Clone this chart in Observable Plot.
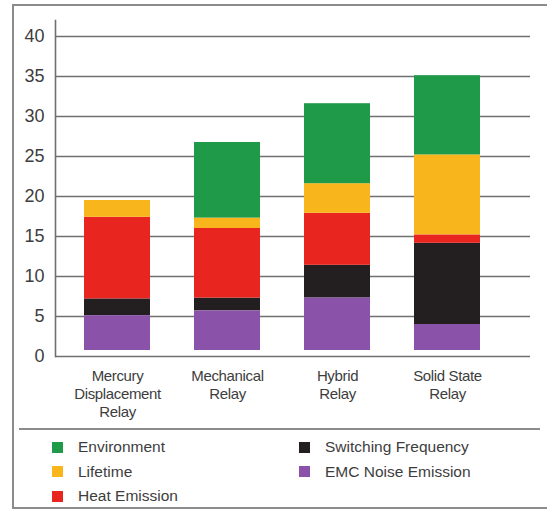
<!DOCTYPE html>
<html><head><meta charset="utf-8">
<script src="https://cdn.jsdelivr.net/npm/d3@7"></script>
<script src="https://cdn.jsdelivr.net/npm/@observablehq/plot@0.6"></script>
<style>
html,body{margin:0;padding:0;background:#fff;}
body{width:547px;height:510px;position:relative;overflow:hidden;font-family:"Liberation Sans",Arial,sans-serif;color:#3d3d3d;}
#border{position:absolute;left:12px;top:4px;width:620px;height:505px;border:2px solid #8c8c8c;border-right:none;box-sizing:border-box;}
#chart{position:absolute;left:0;top:0;}
#chart svg{display:block;background:transparent;}
#chart g[aria-label="x-axis tick label"] text{letter-spacing:-0.35px;}
#legend{position:absolute;left:19px;top:428px;width:521px;border-top:2px solid #8c8c8c;padding:5px 0 0 33px;box-sizing:border-box;
  display:grid;grid-template-columns:247px auto;grid-template-rows:24.5px 24.5px 24.5px;grid-auto-flow:column;}
.item{display:flex;align-items:center;font-size:15.5px;color:#3d3d3d;}
.sw{width:11px;height:11px;margin-right:15px;flex:none;}
</style>
</head><body>
<div id="border"></div>
<div id="chart"></div>
<div id="legend"></div>
<script>
const categories = ["Mercury Displacement Relay", "Mechanical Relay", "Hybrid Relay", "Solid State Relay"];
const tickLabels = ["Mercury\nDisplacement\nRelay", "Mechanical\nRelay", "Hybrid\nRelay", "Solid State\nRelay"];
// stacking order, bottom to top
const series = ["EMC Noise Emission", "Switching Frequency", "Heat Emission", "Lifetime", "Environment"];
const emcNoise    = [5.1, 5.7, 7.3, 4.0];
const switching   = [2.1, 1.6, 4.1, 10.15];
const heat        = [10.2, 8.7, 6.5, 1.05];
const lifetime    = [2.1, 1.3, 3.7, 10.0];
const environment = [0, 9.45, 10.0, 9.9];
const seriesColors = ["#8a52a8", "#231f20", "#e8251f", "#f9b51c", "#1f9a48"];
const yTicks = [0, 5, 10, 15, 20, 25, 30, 35, 40];
const legendOrder = ["Environment", "Lifetime", "Heat Emission", "Switching Frequency", "EMC Noise Emission"];

const values = [emcNoise, switching, heat, lifetime, environment];
const rows = [];
categories.forEach((c, i) => {
  let base = 0;
  series.forEach((s, j) => {
    const v = values[j][i];
    rows.push({category: c, series: s, y1: base, y2: base + v});
    base += v;
  });
});

const chart = Plot.plot({
  width: 547,
  height: 425,
  marginTop: 20,
  marginBottom: 69,
  marginLeft: 55,
  marginRight: 17,
  style: {fontFamily: "'Liberation Sans', Arial, sans-serif", color: "#3d3d3d", background: "transparent"},
  x: {domain: categories, range: [60, 503], paddingInner: 0.4, paddingOuter: 0.2, label: null},
  y: {domain: [0, 42], label: null},
  color: {domain: series, range: seriesColors},
  marks: [
    Plot.gridY(yTicks, {stroke: "#707070", strokeOpacity: 1, strokeWidth: 1.6}),
    Plot.frame({anchor: "left", stroke: "#707070", strokeWidth: 1.6}),
    Plot.barY(rows.filter(d => d.series !== series[0]), {x: "category", y1: "y1", y2: "y2", fill: "series"}),
    Plot.barY(rows.filter(d => d.series === series[0]), {x: "category", y1: "y1", y2: "y2", fill: "series", insetBottom: 6}),
    Plot.axisY(yTicks, {tickSize: 0, tickPadding: 11, fontSize: 18, label: null}),
    Plot.axisX({tickSize: 0, tickPadding: 12, fontSize: 15, lineHeight: 1.2, label: null,
      tickFormat: d => tickLabels[categories.indexOf(d)]})
  ]
});
document.getElementById("chart").appendChild(chart);

const legend = document.getElementById("legend");
legendOrder.forEach(name => {
  const item = document.createElement("div");
  item.className = "item";
  const sw = document.createElement("span");
  sw.className = "sw";
  sw.style.background = seriesColors[series.indexOf(name)];
  item.appendChild(sw);
  item.appendChild(document.createTextNode(name));
  legend.appendChild(item);
});
</script>
</body></html>
